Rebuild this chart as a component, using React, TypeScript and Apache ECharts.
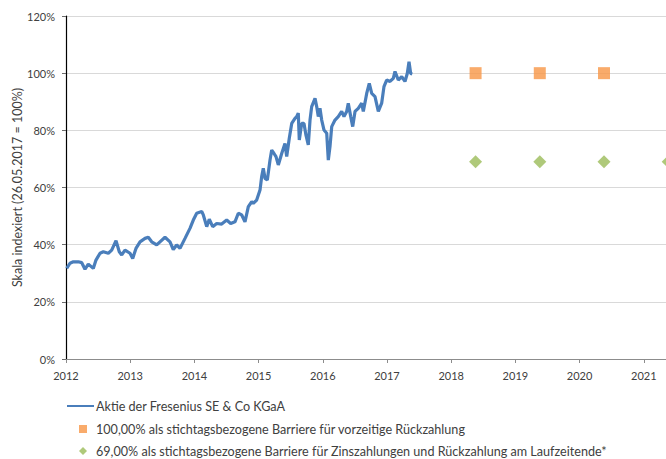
import React, { useEffect, useRef } from "react";
import * as echarts from "echarts";

// Decimal year positions and indexed values (%)
const stockYears = [
  2012.011, 2012.062, 2012.114, 2012.192, 2012.245, 2012.296, 2012.347, 2012.425, 2012.467, 2012.530,
  2012.581, 2012.659, 2012.712, 2012.779, 2012.830, 2012.868, 2012.919, 2012.997, 2013.039, 2013.090,
  2013.153, 2013.231, 2013.282, 2013.335, 2013.413, 2013.464, 2013.542, 2013.620, 2013.671, 2013.724,
  2013.776, 2013.854, 2013.931, 2013.983, 2014.036, 2014.114, 2014.139, 2014.192, 2014.232, 2014.285,
  2014.347, 2014.425, 2014.503, 2014.565, 2014.632, 2014.684, 2014.737, 2014.788, 2014.840, 2014.893,
  2014.918, 2014.970, 2015.022, 2015.048, 2015.073, 2015.100, 2015.136, 2015.178, 2015.204, 2015.240,
  2015.271, 2015.307, 2015.360, 2015.411, 2015.438, 2015.478, 2015.516, 2015.567, 2015.593, 2015.618,
  2015.634, 2015.671, 2015.707, 2015.738, 2015.774, 2015.801, 2015.827, 2015.879, 2015.905, 2015.930,
  2015.956, 2015.983, 2016.019, 2016.061, 2016.086, 2016.112, 2016.139, 2016.190, 2016.241, 2016.294,
  2016.330, 2016.372, 2016.397, 2016.435, 2016.466, 2016.502, 2016.553, 2016.606, 2016.631, 2016.684,
  2016.724, 2016.762, 2016.813, 2016.865, 2016.917, 2016.953, 2016.995, 2017.047, 2017.098, 2017.125,
  2017.176, 2017.229, 2017.280, 2017.316, 2017.343, 2017.369, 2017.394
];
const stockValues = [
  31.7, 33.5, 34.0, 34.0, 33.7, 31.4, 33.2, 31.7, 34.6, 37.0,
  37.5, 37.0, 38.1, 41.4, 37.5, 36.4, 38.1, 37.0, 35.2, 38.7,
  41.0, 42.2, 42.6, 41.0, 39.9, 41.0, 42.6, 41.0, 38.3, 39.9,
  38.7, 42.2, 45.7, 48.6, 51.0, 51.6, 50.4, 46.3, 48.9, 46.3,
  47.4, 47.2, 48.6, 47.4, 48.0, 51.0, 50.4, 48.0, 53.3, 55.0,
  54.5, 55.6, 59.1, 63.8, 66.7, 63.2, 62.6, 69.6, 73.1, 71.9,
  70.8, 67.9, 71.9, 75.4, 70.8, 77.2, 82.4, 84.2, 84.8, 86.0,
  76.6, 82.4, 82.4, 78.3, 74.9, 83.6, 88.3, 91.2, 88.3, 84.8,
  87.7, 83.6, 80.1, 79.0, 69.6, 74.3, 81.3, 83.6, 84.8, 86.6,
  84.8, 86.6, 89.5, 84.8, 81.3, 86.6, 87.7, 89.5, 86.6, 92.9,
  96.4, 92.9, 91.8, 86.6, 89.5, 95.3, 97.6, 97.1, 98.2, 100.6,
  97.6, 98.8, 97.1, 99.9, 104.0, 99.9, 99.7
];

const earlyYears = [2018.38, 2019.38, 2020.38];
const earlyBarrier = [100, 100, 100];
const couponYears = [2018.38, 2019.38, 2020.38, 2021.38];
const couponBarrier = [69, 69, 69, 69];

const yTicks = [0, 20, 40, 60, 80, 100, 120];

const seriesNames = [
  "Aktie der Fresenius SE & Co KGaA",
  "100,00% als stichtagsbezogene Barriere für vorzeitige Rückzahlung",
  "69,00% als stichtagsbezogene Barriere für Zinszahlungen und Rückzahlung am Laufzeitende*",
];
const yAxisName = "Skala indexiert (26.05.2017 = 100%)";

const FONT = "Lato, 'Open Sans', sans-serif";
const TXT = "#404040";

const legendText = {
  color: TXT,
  fontSize: 12.6,
  lineHeight: 14,
  fontFamily: FONT,
};

export default function App() {
  const ref = useRef<HTMLDivElement>(null);
  useEffect(() => {
    if (!ref.current) return;
    const chart = echarts.init(ref.current, null, { renderer: "svg" });
    const n = Math.min(stockYears.length, stockValues.length);
    const stock = [];
    for (let i = 0; i < n; i++) stock.push([stockYears[i], stockValues[i]]);
    chart.setOption({
      animation: false,
      textStyle: { fontFamily: FONT },
      grid: {
        left: 66,
        top: 16,
        right: 0,
        bottom: 100,
        containLabel: false,
        outerBoundsMode: "none",
      },
      xAxis: {
        type: "value",
        min: 2012,
        max: 2021.346,
        interval: 1,
        axisLine: { show: true, lineStyle: { color: "#8c8c8c", width: 1 } },
        axisTick: { show: true, length: 4, lineStyle: { color: "#8c8c8c" } },
        axisLabel: {
          color: TXT,
          fontSize: 11,
          margin: 11,
          showMaxLabel: false,
          formatter: (v: number) => String(Math.round(v)),
        },
        splitLine: { show: false },
      },
      yAxis: {
        type: "value",
        min: yTicks[0],
        max: yTicks[yTicks.length - 1],
        interval: 20,
        name: yAxisName,
        nameLocation: "middle",
        nameGap: 42,
        nameMoveOverlap: false,
        nameRotate: 90,
        nameTextStyle: { color: TXT, fontSize: 12.5, fontFamily: FONT },
        axisLine: { show: true, lineStyle: { color: "#000000", width: 1.2 } },
        axisTick: { show: true, length: 4, lineStyle: { color: "#6b6b6b" } },
        axisLabel: { color: TXT, fontSize: 11, margin: 11, formatter: "{value}%" },
        splitLine: { show: true, lineStyle: { color: "#d9d9d9", width: 1 } },
      },
      legend: [
        {
          orient: "vertical",
          left: 66,
          top: 399,
          itemWidth: 27,
          itemHeight: 8,
          padding: 0,
          textStyle: { ...legendText, padding: [0, 0, 0, -3] },
          data: [{ name: seriesNames[0], itemStyle: { opacity: 0 } }],
        },
        {
          orient: "vertical",
          left: 79,
          top: 422,
          itemWidth: 8,
          itemHeight: 8,
          padding: 0,
          textStyle: { ...legendText, padding: [0, 0, 0, 4] },
          data: [{ name: seriesNames[1] }],
        },
        {
          orient: "vertical",
          left: 79,
          top: 444,
          itemWidth: 8,
          itemHeight: 8,
          padding: 0,
          textStyle: { ...legendText, padding: [0, 0, 0, 4] },
          data: [{ name: seriesNames[2] }],
        },
      ],
      series: [
        {
          name: seriesNames[0],
          type: "line",
          data: stock,
          symbol: "none",
          lineStyle: { color: "#4a7ebb", width: 3.2 },
          itemStyle: { color: "#4a7ebb" },
        },
        {
          name: seriesNames[1],
          type: "scatter",
          data: earlyYears.map((y, i) => [y, earlyBarrier[i]]),
          symbol: "rect",
          symbolSize: 12,
          clip: false,
          itemStyle: { color: "#f79646" },
        },
        {
          name: seriesNames[2],
          type: "scatter",
          data: couponYears.map((y, i) => [y, couponBarrier[i]]),
          symbol: "diamond",
          symbolSize: 13,
          clip: false,
          itemStyle: { color: "#9bbb59" },
        },
      ],
    });
    return () => chart.dispose();
  }, []);
  return (
    <div
      ref={ref}
      style={{ position: "absolute", left: 0, top: 0, width: 666, height: 459, background: "#fff" }}
    />
  );
}
